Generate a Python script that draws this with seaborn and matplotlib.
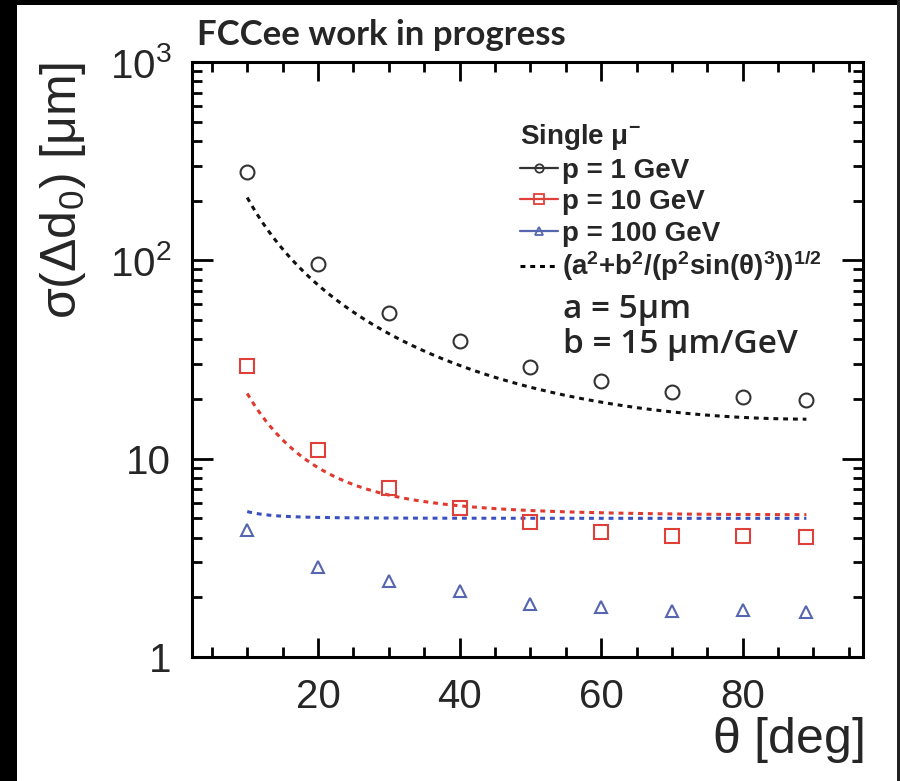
import numpy as np
import pandas as pd
import seaborn as sns
import matplotlib
matplotlib.use("Agg")
import matplotlib.pyplot as plt
from matplotlib.lines import Line2D
from matplotlib.patches import Rectangle
from matplotlib.ticker import FixedLocator, MultipleLocator, FixedFormatter, NullFormatter
from matplotlib.font_manager import FontProperties

# ---------------- data ----------------
theta_deg = [10, 20, 30, 40, 50, 60, 70, 80, 89]
sigma_p1 = [278, 96, 54, 39, 29, 24.6, 21.7, 20.5, 19.8]
sigma_p10 = [29.3, 11.1, 7.1, 5.64, 4.8, 4.27, 4.08, 4.08, 4.03]
sigma_p100 = [4.37, 2.84, 2.42, 2.15, 1.85, 1.79, 1.71, 1.73, 1.69]
momenta_gev = [1, 10, 100]
series_labels = ["p = 1 GeV", "p = 10 GeV", "p = 100 GeV"]
param_a_um = 5.0
param_b_um_gev = 15.0
curve_theta_range = [10, 89]
x_major_ticks = [20, 40, 60, 80]
y_major_ticks = [1, 10, 100, 1000]
y_tick_labels = ["1", "10", r"$\mathregular{10^{2}}$", r"$\mathregular{10^{3}}$"]

# ---------------- style ----------------
sns.set_theme(style="ticks")
plt.rcParams["font.family"] = ["Liberation Sans", "DejaVu Sans"]
plt.rcParams["mathtext.fontset"] = "custom"
plt.rcParams["mathtext.rm"] = "Liberation Sans"
plt.rcParams["mathtext.it"] = "Liberation Sans:italic"
plt.rcParams["mathtext.bf"] = "Liberation Sans:bold"
plt.rcParams["mathtext.sf"] = "Liberation Sans"

marker_colors = ["#333333", "#e0403a", "#5565b0"]
curve_colors = ["#111111", "#e03a30", "#3a50c0"]
markers = ["o", "s", "^"]

fig = plt.figure(figsize=(9.0, 7.81), dpi=100)
fig.patch.set_facecolor("white")
W, H = 900.0, 781.0
ax = fig.add_axes([192 / W, 1 - 657 / H, (863 - 192) / W, (657 - 62) / H])
ax.set_yscale("log")

# ---------------- data frames ----------------
df = pd.DataFrame({
    "theta": theta_deg * 3,
    "sigma": sigma_p1 + sigma_p10 + sigma_p100,
    "series": sum([[lab] * len(theta_deg) for lab in series_labels], []),
})

th = np.linspace(curve_theta_range[0], curve_theta_range[1], 300)
curve_frames = []
for p, lab in zip(momenta_gev, series_labels):
    s = np.sqrt(param_a_um ** 2 + param_b_um_gev ** 2 / (p ** 2 * np.sin(np.radians(th)) ** 3))
    curve_frames.append(pd.DataFrame({"theta": th, "sigma": s, "series": lab}))
curves = pd.concat(curve_frames, ignore_index=True)

# fit curves
for lab, col in zip(series_labels, curve_colors):
    sns.lineplot(data=curves[curves["series"] == lab], x="theta", y="sigma",
                 color=col, linewidth=2.2, linestyle=(0, (1.6, 1.6)), ax=ax,
                 legend=False, zorder=2)

# points
msizes = [10, 10, 9]
for lab, col, m, ms in zip(series_labels, marker_colors, markers, msizes):
    sub = df[df["series"] == lab]
    sns.lineplot(data=sub, x="theta", y="sigma", marker=m, linestyle="",
                 color=col, markerfacecolor="none", markeredgecolor=col,
                 markeredgewidth=1.5, markersize=ms, ax=ax, legend=False, zorder=3)

# ---------------- axes ----------------
ax.set_xlim(2.2, 97.0)
ax.set_ylim(1, 1000)
ax.xaxis.set_major_locator(FixedLocator(x_major_ticks))
ax.xaxis.set_minor_locator(MultipleLocator(5))
ax.yaxis.set_major_locator(FixedLocator(y_major_ticks))
ax.yaxis.set_major_formatter(FixedFormatter(y_tick_labels))
minor_y = [m * 10 ** d for d in range(0, 3) for m in range(2, 10)]
ax.yaxis.set_minor_locator(FixedLocator(minor_y))
ax.yaxis.set_minor_formatter(NullFormatter())

for sp in ax.spines.values():
    sp.set_visible(True)
    sp.set_linewidth(2.2)
    sp.set_color("black")

ax.tick_params(axis="both", which="both", direction="in", top=True, right=True,
               color="black", width=2.0)
ax.tick_params(axis="x", which="major", length=14, pad=15, labelsize=29)
ax.tick_params(axis="x", which="minor", length=7)
ax.tick_params(axis="y", which="major", length=15, pad=15, labelsize=29)
ax.tick_params(axis="y", which="minor", length=7.5)
ax.grid(False)
ax.set_facecolor("white")

ax.set_xlabel(r"$\mathregular{\theta}$ [deg]", fontsize=36, loc="right")
ax.xaxis.set_label_coords(1.0, -0.098)
ax.set_ylabel(r"$\mathregular{\sigma(\Delta d_{0})\ [\mu m]}$", fontsize=36, loc="top")
ax.yaxis.set_label_coords(-0.155, 1.0)

# ---------------- legend ----------------
handles = []
for col, m, ms in zip(marker_colors, markers, [6, 7, 6]):
    handles.append(Line2D([], [], color=col, marker=m, markerfacecolor="none",
                          markeredgecolor=col, markersize=ms, markeredgewidth=1.3,
                          linewidth=1.6))
fit_handle = Line2D([], [], color="black", linewidth=2.2, linestyle=(0, (1.6, 1.6)))
fit_label = r"$\mathbf{(a^{2}{+}b^{2}/(p^{2}sin(\theta)^{3}))^{1/2}}$"

leg_font = FontProperties(family="Liberation Sans", weight="bold", size=20)
leg1 = ax.legend(handles, series_labels, title=r"Single $\mathregular{\mu^{-}}$",
                 loc="upper left", bbox_to_anchor=(520 / W, 1 - 122 / H),
                 bbox_transform=fig.transFigure, frameon=False, prop=leg_font,
                 title_fontproperties=FontProperties(family="Liberation Sans", weight="bold", size=20),
                 alignment="left", handlelength=1.35, handletextpad=0.18,
                 labelspacing=0.2, borderpad=0, borderaxespad=0)
ax.add_artist(leg1)
leg2 = ax.legend([fit_handle], [fit_label], loc="center left",
                 bbox_to_anchor=(520 / W, 1 - 266 / H), bbox_transform=fig.transFigure,
                 frameon=False, prop=leg_font, handlelength=1.35, handletextpad=0.18,
                 borderpad=0, borderaxespad=0)

fig.text(563 / W, 1 - 318 / H, "a = 5\u03bcm", fontsize=24, family=["Open Sans", "DejaVu Sans"],
         fontweight="semibold", va="baseline", ha="left")
fig.text(563 / W, 1 - 353 / H, "b = 15 \u03bcm/GeV", fontsize=24, family=["Open Sans", "DejaVu Sans"],
         fontweight="semibold", va="baseline", ha="left")

# header
fig.text(197 / W, 1 - 45 / H, "FCCee work in progress", fontsize=25,
         family=["Lato", "DejaVu Sans"], fontweight="bold", va="baseline", ha="left")

# black border strips as in the reference screenshot
fig.patches.append(Rectangle((0, 0), 17 / W, 1, transform=fig.transFigure,
                             facecolor="black", edgecolor="none", zorder=-1))
fig.patches.append(Rectangle((0, 1 - 5 / H), 1, 5 / H, transform=fig.transFigure,
                             facecolor="black", edgecolor="none", zorder=-1))
fig.patches.append(Rectangle((897 / W, 0), 3 / W, 1, transform=fig.transFigure,
                             facecolor="#222222", edgecolor="none", zorder=-1))

fig.savefig("out.png", dpi=100, facecolor="white")
